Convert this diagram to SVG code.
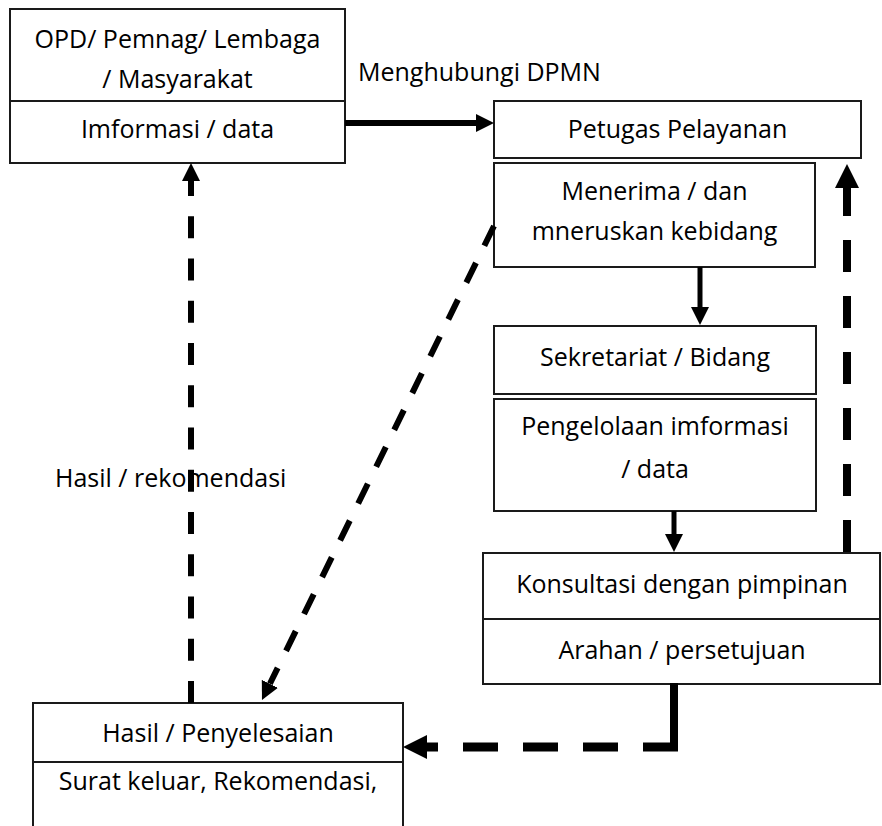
<svg xmlns="http://www.w3.org/2000/svg" width="882" height="826" viewBox="0 0 882 826">
<defs>
<style>
.box{fill:#fff;stroke:#1a1a1a;stroke-width:2}
.div{stroke:#1a1a1a;stroke-width:2}
.t{font-family:"Open Sans","Liberation Sans",sans-serif;font-size:25px;fill:#000}
.c{text-anchor:middle}
.ln{fill:none;stroke:#000;stroke-linecap:butt}
</style>
<marker id="ah" markerUnits="userSpaceOnUse" viewBox="0 -9 18 18" refX="0" refY="0" markerWidth="18" markerHeight="18" orient="auto-start-reverse">
<path d="M0,-9 L18,0 L0,9 Z" fill="#000"/>
</marker>
<marker id="ahL" markerUnits="userSpaceOnUse" viewBox="0 -12 24 24" refX="0" refY="0" markerWidth="24" markerHeight="24" orient="auto-start-reverse">
<path d="M0,-12 L24,0 L0,12 Z" fill="#000"/>
</marker>
</defs>
<rect width="882" height="826" fill="#fff"/>

<g id="node-opd">
<rect class="box" x="10" y="9" width="335" height="154"/>
<line class="div" x1="10" y1="101" x2="345" y2="101"/>
<text class="t c" x="177.5" y="48">OPD/ Pemnag/ Lembaga</text>
<text class="t c" x="177.5" y="88">/ Masyarakat</text>
<text class="t c" x="177.5" y="138">Imformasi / data</text>
</g>

<g id="node-petugas">
<rect class="box" x="494" y="101" width="367" height="57"/>
<text class="t c" x="677.5" y="138">Petugas Pelayanan</text>
</g>

<g id="node-menerima">
<rect class="box" x="494" y="163" width="321" height="104"/>
<text class="t c" x="654.5" y="200">Menerima / dan</text>
<text class="t c" x="654.5" y="240">mneruskan kebidang</text>
</g>

<g id="node-sekretariat">
<rect class="box" x="494" y="326" width="322" height="68"/>
<text class="t c" x="655" y="366">Sekretariat / Bidang</text>
</g>

<g id="node-pengelolaan">
<rect class="box" x="494" y="399" width="322" height="112"/>
<text class="t c" x="655" y="435">Pengelolaan imformasi</text>
<text class="t c" x="655" y="478">/ data</text>
</g>

<g id="node-konsultasi">
<rect class="box" x="483" y="553" width="397" height="131"/>
<line class="div" x1="483" y1="619" x2="880" y2="619"/>
<text class="t c" x="682" y="593">Konsultasi dengan pimpinan</text>
<text class="t c" x="682" y="659">Arahan / persetujuan</text>
</g>

<g id="node-hasil">
<rect class="box" x="33" y="703" width="370" height="140"/>
<line class="div" x1="33" y1="762" x2="403" y2="762"/>
<text class="t c" x="218" y="742">Hasil / Penyelesaian</text>
<text class="t c" x="218" y="790">Surat keluar, Rekomendasi,</text>
</g>

<g id="labels">
<text class="t" x="358" y="81">Menghubungi DPMN</text>
<text class="t" x="55" y="487">Hasil / rekomendasi</text>
</g>

<g id="connectors">
<path class="ln" d="M345,123 H476" stroke-width="6" marker-end="url(#ah)"/>
<path class="ln" d="M700,267 V307" stroke-width="5" marker-end="url(#ah)"/>
<path class="ln" d="M674,511 V534" stroke-width="5" marker-end="url(#ah)"/>
<path class="ln" d="M847,552 V188" stroke-width="8" stroke-dasharray="32 24" marker-end="url(#ahL)"/>
<path class="ln" d="M674,683 V751" stroke-width="8"/>
<path class="ln" d="M678,747 H427" stroke-width="9" stroke-dasharray="35 25" marker-end="url(#ahL)"/>
<path class="ln" d="M191,181 V703" stroke-width="6" stroke-dasharray="22 20.25" stroke-dashoffset="7" marker-start="url(#ah)"/>
<path class="ln" d="M494,226 L269.9,683.8" stroke-width="6" stroke-dasharray="22 19" marker-end="url(#ah)"/>
</g>
</svg>
